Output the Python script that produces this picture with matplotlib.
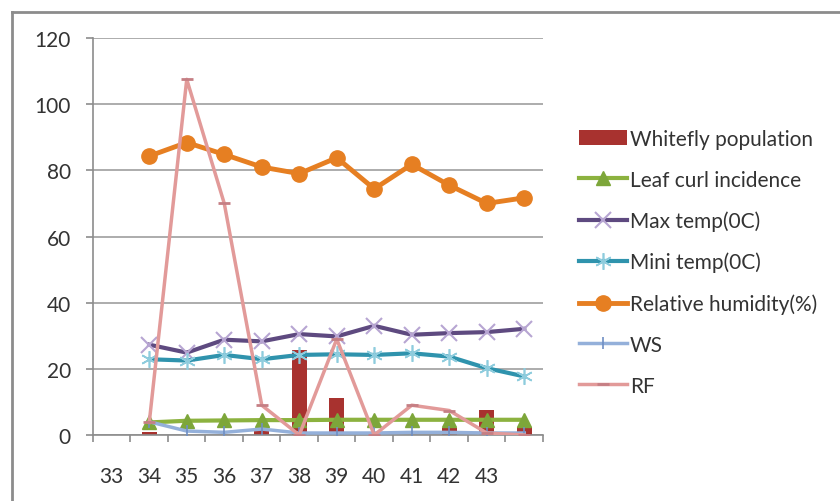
import numpy as np
import matplotlib.pyplot as plt
from matplotlib.lines import Line2D

plt.rcParams['font.family'] = ['Lato', 'DejaVu Sans']

# standard weeks on the category axis (last slot has no label)
weeks = ['33', '34', '35', '36', '37', '38', '39', '40', '41', '42', '43', '']
nan = np.nan

whitefly = [nan, 1.0, 0.0, 0.0, 1.8, 25.8, 11.2, 0.0, 0.0, 2.2, 7.6, 2.3]
leaf_curl = [nan, 3.8, 4.3, 4.4, 4.5, 4.5, 4.6, 4.6, 4.6, 4.6, 4.6, 4.6]
max_temp = [nan, 27.3, 24.9, 28.8, 28.3, 30.5, 29.8, 33.0, 30.3, 30.8, 31.1, 32.1]
min_temp = [nan, 22.9, 22.5, 24.2, 22.9, 24.2, 24.4, 24.2, 24.7, 23.7, 20.2, 17.7]
rel_hum = [nan, 84.3, 88.4, 84.8, 81.0, 79.0, 83.8, 74.4, 81.8, 75.5, 70.0, 71.7]
ws = [nan, 4.0, 1.2, 0.8, 1.8, 0.6, 0.6, 0.6, 0.8, 0.8, 0.6, 0.6]
rf = [nan, 3.8, 107.5, 70.0, 9.0, 0.0, 29.0, 0.0, 9.0, 7.4, 0.6, 0.0]

x = np.arange(1, len(weeks) + 1)

fig = plt.figure(figsize=(8.4, 5.02), dpi=100)
ax = fig.add_axes([93 / 840, 1 - 436 / 502, 450 / 840, 397 / 502])

handles = []
handles.append(ax.bar(x, whitefly, width=0.4, color='#A8322F', zorder=2,
                      label='Whitefly population'))
handles += ax.plot(x, leaf_curl, color='#8CB23F', lw=3, marker='^', ms=10,
                   mfc='#7DA63A', mec='#7DA63A', zorder=3, label='Leaf curl incidence')
handles += ax.plot(x, max_temp, color='#5E4A80', lw=3, marker='x', ms=12, mew=1.5,
                   mec='#B7A5D2', zorder=3, label='Max temp(0C)')
handles += ax.plot(x, min_temp, color='#2F93AD', lw=3, marker=(6, 2, 0), ms=12, mew=1.2,
                   mec='#8ECCDD', zorder=3, label='Mini temp(0C)')
handles += ax.plot(x, rel_hum, color='#E67F22', lw=3.5, marker='o', ms=11,
                   mfc='#E67F22', mec='#E67F22', zorder=3, label='Relative humidity(%)')
handles += ax.plot(x, ws, color='#94B0DA', lw=2.5, marker='|', ms=8, mew=1.2,
                   mec='#6F8FC4', zorder=3, label='WS')
handles += ax.plot(x, rf, color='#E29A99', lw=2.5, marker='_', ms=8, mew=2,
                   mec='#C57F84', zorder=4, label='RF')

ax.set_xlim(0.5, len(weeks) + 0.5)
ax.set_ylim(0, 120)
ax.set_yticks(np.arange(0, 121, 20))
ax.set_xticks(x)
ax.set_xticklabels(weeks)
ax.set_xticks(np.arange(0.5, len(weeks) + 1, 1), minor=True)

ax.grid(axis='y', color='#A6A6A6', lw=1.3, zorder=0)
ax.set_axisbelow(True)
for side in ('top', 'right'):
    ax.spines[side].set_visible(False)
for side in ('left', 'bottom'):
    ax.spines[side].set_color('#8C8C8C')
    ax.spines[side].set_linewidth(1.2)

ax.tick_params(axis='x', which='major', length=0, pad=22, labelsize=15, labelcolor='#333333')
ax.tick_params(axis='x', which='minor', length=5, color='#8C8C8C', width=1.2)
ax.tick_params(axis='y', length=5, color='#8C8C8C', width=1.2, pad=11,
               labelsize=15, labelcolor='#333333')

fig.legend(handles=handles, loc='upper left', bbox_to_anchor=(560 / 840, 1 - 111 / 502),
           frameon=False, fontsize=15, handlelength=2.3, handletextpad=0.15,
           labelspacing=1.0, labelcolor='#333333')

# outer chart border
fig.add_artist(Line2D([12 / 840, 12 / 840], [0, 1 - 13 / 502], color='#8C8C8C', lw=2))
fig.add_artist(Line2D([12 / 840, 1], [1 - 13 / 502, 1 - 13 / 502], color='#8C8C8C', lw=2))

fig.savefig('out.png', dpi=100)
